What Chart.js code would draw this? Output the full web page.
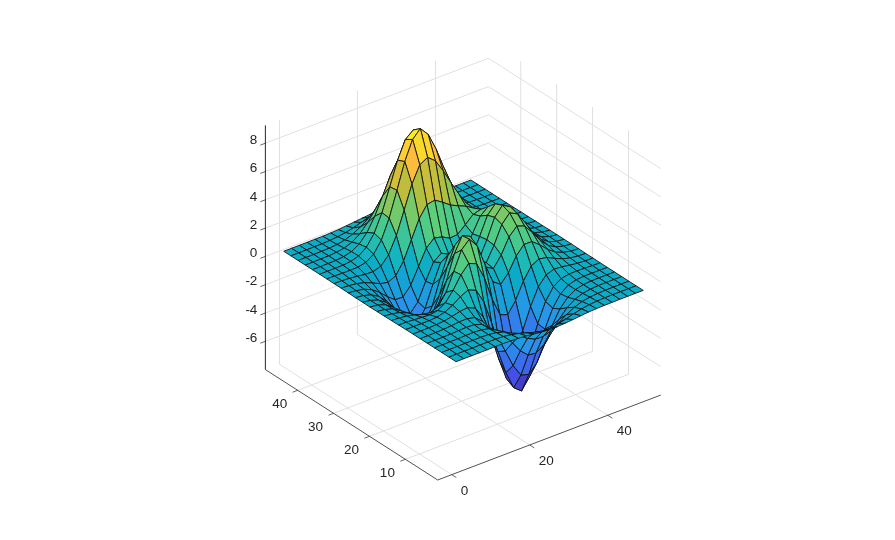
<!DOCTYPE html>
<html lang="en">

<head>
    <meta charset="UTF-8">
    <title>Surface plot</title>
    <style>
        html, body { margin: 0; padding: 0; background: #fff; }
        canvas { display: block; }
    </style>
    <script src="https://cdn.jsdelivr.net/npm/chart.js"></script>
</head>

<body>
    <canvas id="surface" width="895" height="540"></canvas>

    <script>
        // mesh positions (every second line of the mesh)
        const gridX = [1, 3, 5, 7, 9, 11, 13, 15, 17, 19, 21, 23, 25, 27, 29, 31, 33, 35, 37, 39, 41, 43, 45, 47, 49];
        const gridY = [1, 3, 5, 7, 9, 11, 13, 15, 17, 19, 21, 23, 25, 27, 29, 31, 33, 35, 37, 39, 41, 43, 45, 47, 49];

        // surface height, one list per y
        const zY01 = [0, 0, 0, 0, 0, .01, .01, 0, -.03, -.07, -.14, -.2, -.25, -.25, -.22, -.17, -.11, -.06, -.03, -.01, -.01, 0, 0, 0, 0];
        const zY03 = [0, 0, 0, 0, .01, .01, 0, -.02, -.1, -.22, -.39, -.56, -.68, -.69, -.61, -.46, -.3, -.17, -.08, -.03, -.01, 0, 0, 0, 0];
        const zY05 = [0, 0, 0, .01, .01, .02, 0, -.07, -.23, -.53, -.91, -1.31, -1.57, -1.6, -1.41, -1.06, -.69, -.38, -.18, -.08, -.03, -.01, 0, 0, 0];
        const zY07 = [0, 0, .01, .01, .03, .04, .01, -.12, -.44, -1, -1.74, -2.51, -3.02, -3.1, -2.72, -2.05, -1.32, -.73, -.35, -.14, -.05, -.01, 0, 0, 0];
        const zY09 = [0, 0, .01, .02, .05, .07, .05, -.13, -.59, -1.45, -2.64, -3.88, -4.76, -4.93, -4.35, -3.27, -2.1, -1.15, -.53, -.2, -.06, -.01, 0, 0, 0];
        const zY11 = [0, 0, .01, .03, .07, .13, .15, .02, -.46, -1.48, -3.01, -4.7, -5.98, -6.42, -5.64, -4.24, -2.69, -1.42, -.61, -.2, -.04, 0, .01, 0, 0];
        const zY13 = [0, 0, .01, .03, .08, .19, .33, .39, .15, -.68, -2.18, -4.07, -5.68, -6.32, -5.76, -4.31, -2.63, -1.27, -.44, -.07, .04, .05, .03, .01, 0];
        const zY15 = [0, -.01, -.01, -.01, .03, .17, .45, .84, 1.11, .88, -.14, -1.85, -3.61, -4.61, -4.4, -3.23, -1.74, -.56, .08, .27, .23, .13, .06, .02, .01];
        const zY17 = [-.01, -.02, -.06, -.1, -.13, -.04, .3, .98, 1.86, 2.45, 2.22, 1, -.72, -2.02, -2.22, -1.43, -.27, .58, .88, .77, .5, .26, .11, .04, .01];
        const zY19 = [-.02, -.05, -.12, -.25, -.42, -.51, -.28, .5, 1.78, 3.09, 3.63, 2.94, 1.4, 0, -.41, .2, 1.18, 1.79, 1.78, 1.35, .82, .41, .18, .06, .02];
        const zY21 = [-.03, -.08, -.2, -.44, -.8, -1.16, -1.21, -.6, .8, 2.49, 3.55, 3.3, 2, .7, .39, 1.14, 2.2, 2.76, 2.56, 1.88, 1.12, .56, .24, .09, .03];
        const zY23 = [-.03, -.1, -.27, -.6, -1.14, -1.78, -2.16, -1.84, -.56, 1.23, 2.56, 2.63, 1.58, .53, .48, 1.5, 2.76, 3.37, 3.09, 2.25, 1.34, .67, .28, .1, .03];
        const zY25 = [-.04, -.11, -.3, -.69, -1.33, -2.14, -2.77, -2.71, -1.65, .06, 1.48, 1.75, .98, .19, .38, 1.57, 2.94, 3.58, 3.27, 2.37, 1.41, .7, .3, .11, .03];
        const zY27 = [-.03, -.11, -.29, -.67, -1.32, -2.16, -2.87, -2.98, -2.15, -.65, .68, 1.06, .52, -.03, .28, 1.47, 2.76, 3.36, 3.06, 2.22, 1.32, .66, .28, .1, .03];
        const zY29 = [-.03, -.09, -.25, -.57, -1.12, -1.85, -2.49, -2.64, -2, -.76, .39, .8, .46, .09, .38, 1.34, 2.38, 2.83, 2.56, 1.85, 1.09, .54, .23, .08, .02];
        const zY31 = [-.02, -.07, -.18, -.42, -.82, -1.33, -1.76, -1.78, -1.16, -.05, 1.04, 1.55, 1.42, 1.12, 1.17, 1.65, 2.17, 2.32, 1.99, 1.4, .82, .4, .17, .06, .02];
        const zY33 = [-.01, -.04, -.11, -.25, -.48, -.74, -.86, -.6, .23, 1.51, 2.79, 3.59, 3.69, 3.34, 2.93, 2.66, 2.43, 2.08, 1.58, 1.04, .58, .28, .11, .04, .01];
        const zY35 = [-.01, -.02, -.06, -.12, -.2, -.22, -.05, .55, 1.7, 3.29, 4.92, 6.07, 6.39, 5.94, 5.02, 3.97, 2.97, 2.09, 1.35, .79, .41, .19, .07, .03, .01];
        const zY37 = [0, -.01, -.02, -.03, -.01, .11, .48, 1.27, 2.61, 4.37, 6.19, 7.54, 8.1, 7.48, 6.25, 4.72, 3.25, 2.05, 1.18, .62, .29, .12, .05, .02, 0];
        const zY39 = [0, 0, 0, .01, .07, .24, .65, 1.43, 2.67, 4.29, 5.96, 7.22, 7.68, 7.2, 5.99, 4.45, 2.96, 1.78, .96, .47, .21, .08, .03, .01, 0];
        const zY41 = [0, 0, .01, .02, .08, .23, .55, 1.16, 2.1, 3.31, 4.56, 5.51, 5.86, 5.5, 4.57, 3.37, 2.21, 1.29, .68, .32, .13, .05, .02, .01, 0];
        const zY43 = [0, 0, .01, .02, .06, .15, .36, .74, 1.32, 2.07, 2.84, 3.43, 3.65, 3.43, 2.84, 2.09, 1.36, .79, .41, .19, .08, .03, .01, 0, 0];
        const zY45 = [0, 0, 0, .01, .03, .08, .19, .39, .69, 1.07, 1.47, 1.77, 1.88, 1.77, 1.47, 1.08, .7, .4, .2, .09, .04, .01, 0, 0, 0];
        const zY47 = [0, 0, 0, .01, .01, .04, .09, .17, .3, .47, .64, .77, .82, .77, .64, .47, .3, .17, .09, .04, .01, .01, 0, 0, 0];
        const zY49 = [0, 0, 0, 0, .01, .01, .03, .06, .11, .17, .23, .28, .3, .28, .23, .17, .11, .06, .03, .01, .01, 0, 0, 0, 0];
        const zRows = [zY01, zY03, zY05, zY07, zY09, zY11, zY13, zY15, zY17, zY19, zY21, zY23, zY25,
            zY27, zY29, zY31, zY33, zY35, zY37, zY39, zY41, zY43, zY45, zY47, zY49];

        // tick labels
        const xTicks = [0, 20, 40];
        const yTicks = [10, 20, 30, 40];
        const zTicks = [-6, -4, -2, 0, 2, 4, 6, 8];

        // axis limits
        const xLim = [-3.6, 53.6];
        const yLim = [1, 49];
        const zLim = [-8, 9.26];
        const cLim = [-6.55, 8.11];

        // colormap stops
        const mapStops = [0, .13, .31, .44, .5, .62, .75, .87, 1];
        const mapColors = [[62, 38, 168], [70, 83, 239], [39, 150, 235], [10, 170, 200], [26, 187, 184], [92, 207, 122], [181, 190, 60], [253, 189, 61], [249, 251, 21]];

        // view: screen direction of one unit along each axis
        function project(x, y, z) {
            return {
                x: 437.7 + (x - xLim[0]) * 3.9 - (y - yLim[0]) * 3.59,
                y: 480 - (x - xLim[0]) * 1.485 - (y - yLim[0]) * 2.3 - (z - zLim[0]) * 14.15
            };
        }

        // the sheet sits a little below what the axes alone give
        function projectFace(x, y, z) {
            var p = project(x, y, z);
            return { x: p.x + 0.4, y: p.y + 1.7 };
        }

        function faceColor(z) {
            var t = Math.min(1, Math.max(0, (z - cLim[0]) / (cLim[1] - cLim[0])));
            var k = 0;
            while (k < mapStops.length - 2 && t > mapStops[k + 1]) k++;
            var f = (t - mapStops[k]) / (mapStops[k + 1] - mapStops[k]);
            var c = mapColors[k].map(function (v, n) {
                return Math.round(v + (mapColors[k + 1][n] - v) * f);
            });
            return "rgb(" + c.join(",") + ")";
        }

        function lineSet(points, color, width) {
            return {
                type: "scatter", data: points, showLine: true, fill: false,
                borderColor: color, borderWidth: width, pointRadius: 0, tension: 0
            };
        }

        var datasets = [];

        // faces, front first because Chart.js paints the first dataset last
        for (var j = 0; j < gridY.length - 1; j++) {
            for (var i = 0; i < gridX.length - 1; i++) {
                var z00 = zRows[j][i], z10 = zRows[j][i + 1], z11 = zRows[j + 1][i + 1], z01 = zRows[j + 1][i];
                datasets.push({
                    type: "scatter",
                    data: [
                        projectFace(gridX[i], gridY[j], z00),
                        projectFace(gridX[i + 1], gridY[j], z10),
                        projectFace(gridX[i + 1], gridY[j + 1], z11),
                        projectFace(gridX[i], gridY[j + 1], z01),
                        projectFace(gridX[i], gridY[j], z00)
                    ],
                    showLine: true,
                    fill: "shape",
                    backgroundColor: faceColor((z00 + z10 + z11 + z01) / 4),
                    borderColor: "#141414",
                    borderWidth: 0.9,
                    pointRadius: 0,
                    tension: 0
                });
            }
        }

        // axes and their tick marks
        const axisColor = "#262626";
        const gridColor = "#e0e0e0";
        datasets.push(lineSet([project(xLim[0], yLim[0], zLim[0]), project(xLim[1], yLim[0], zLim[0])], axisColor, 0.8));
        datasets.push(lineSet([project(xLim[0], yLim[0], zLim[0]), project(xLim[0], yLim[1], zLim[0])], axisColor, 0.8));
        datasets.push(lineSet([project(xLim[0], yLim[1], zLim[0]), project(xLim[0], yLim[1], zLim[1])], axisColor, 1));
        xTicks.forEach(function (v) {
            datasets.push(lineSet([project(v, yLim[0], zLim[0]), project(v, yLim[0] - 1.3, zLim[0])], axisColor, 0.7));
        });
        yTicks.forEach(function (v) {
            datasets.push(lineSet([project(xLim[0], v, zLim[0]), project(xLim[0] - 1.3, v, zLim[0])], axisColor, 0.7));
        });
        zTicks.forEach(function (v) {
            datasets.push(lineSet([project(xLim[0], yLim[1], v), project(xLim[0] - 1.3, yLim[1], v)], axisColor, 0.7));
        });

        // grid on the floor and the two back walls
        xTicks.forEach(function (v) {
            datasets.push(lineSet([project(v, yLim[0], zLim[0]), project(v, yLim[1], zLim[0]), project(v, yLim[1], zLim[1])], gridColor, 1));
        });
        yTicks.forEach(function (v) {
            datasets.push(lineSet([project(xLim[0], v, zLim[0]), project(xLim[1], v, zLim[0]), project(xLim[1], v, zLim[1])], gridColor, 1));
        });
        zTicks.forEach(function (v) {
            datasets.push(lineSet([project(xLim[0], yLim[1], v), project(xLim[1], yLim[1], v), project(xLim[1], yLim[0], v)], gridColor, 1));
        });

        // tick labels go through the scales like everything else
        const tickLabels = {
            id: "tickLabels",
            afterDraw: function (chart) {
                var ctx = chart.ctx;
                var sx = chart.scales.x, sy = chart.scales.y;
                function put(p, text, dx, dy, align) {
                    ctx.textAlign = align;
                    ctx.fillText(text, sx.getPixelForValue(p.x) + dx, sy.getPixelForValue(p.y) + dy);
                }
                ctx.save();
                ctx.font = "13.5px 'Liberation Sans'";
                ctx.fillStyle = axisColor;
                ctx.textBaseline = "middle";
                xTicks.forEach(function (v) { put(project(v, yLim[0], zLim[0]), String(v), 9, 16.5, "left"); });
                yTicks.forEach(function (v) { put(project(xLim[0], v, zLim[0]), String(v), -10.5, 14, "right"); });
                zTicks.forEach(function (v) { put(project(xLim[0], yLim[1], v), String(v), -8, -3, "right"); });
                ctx.restore();
            }
        };

        new Chart(document.getElementById("surface"), {
            type: "scatter",
            data: { datasets: datasets },
            options: {
                responsive: false,
                animation: false,
                events: [],
                layout: { padding: 0 },
                scales: {
                    x: { type: "linear", min: 0, max: 895, display: false },
                    y: { type: "linear", min: 0, max: 540, reverse: true, display: false }
                },
                plugins: { legend: { display: false }, tooltip: { enabled: false } }
            },
            plugins: [tickLabels]
        });
    </script>
</body>

</html>
